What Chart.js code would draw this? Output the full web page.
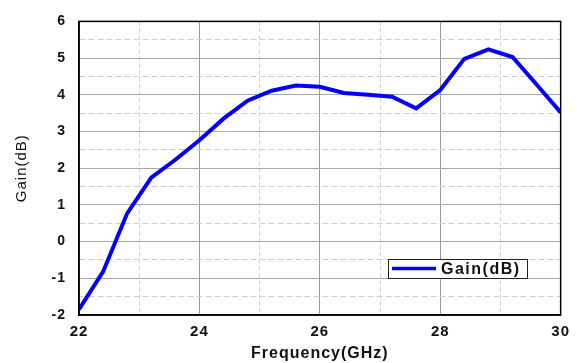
<!DOCTYPE html>
<html>
<head>
<meta charset="utf-8">
<script src="https://cdn.jsdelivr.net/npm/chart.js@4"></script>
<style>
html,body{margin:0;padding:0;background:#fff;}
#wrap{width:577px;height:363px;position:relative;}
</style>
</head>
<body>
<div id="wrap"><canvas id="c" width="577" height="363"></canvas></div>
<script>
const seriesName = "Gain(dB)";
const frequencies = [22, 22.4, 22.8, 23.2, 23.6, 24.0, 24.4, 24.8, 25.2, 25.6, 26.0, 26.4, 26.8, 27.2, 27.6, 28.0, 28.4, 28.8, 29.2, 29.6, 30.0];
const gainValues = [-1.85, -0.82, 0.77, 1.74, 2.23, 2.76, 3.35, 3.84, 4.11, 4.25, 4.22, 4.05, 4.00, 3.95, 3.63, 4.13, 4.98, 5.24, 5.03, 4.28, 3.52];
const xTickLabels = [22, 24, 26, 28, 30];
const yTickLabels = [-2, -1, 0, 1, 2, 3, 4, 5, 6];
const xTitle = "Frequency(GHz)";
const yTitle = "Gain(dB)";

const points = frequencies.map((f, i) => ({x: f, y: gainValues[i]}));

const spacingPlugin = {
  id: 'spacing',
  beforeDraw(chart) { chart.ctx.letterSpacing = '1px'; }
};

const framePlugin = {
  id: 'frame',
  afterDatasetsDraw(chart) {
    const {ctx, chartArea: a} = chart;
    ctx.save();
    ctx.strokeStyle = '#000';
    ctx.lineWidth = 1.5;
    ctx.setLineDash([]);
    ctx.strokeRect(a.left, a.top, a.right - a.left, a.bottom - a.top);
    ctx.restore();
  },
  afterDraw(chart) {
    const {ctx} = chart;
    const ds = chart.data.datasets[0];
    ctx.save();
    const bx = 388, by = 259, bw = 139, bh = 19;
    ctx.fillStyle = '#fff';
    ctx.fillRect(bx, by, bw, bh);
    ctx.setLineDash([]);
    ctx.strokeStyle = '#222';
    ctx.lineWidth = 1;
    ctx.strokeRect(bx + 0.5, by + 0.5, bw, bh);
    ctx.strokeStyle = ds.borderColor;
    ctx.lineWidth = 3.5;
    ctx.beginPath();
    ctx.moveTo(bx + 4, by + 9.5);
    ctx.lineTo(bx + 48, by + 9.5);
    ctx.stroke();
    ctx.letterSpacing = '1.5px';
    ctx.fillStyle = '#111';
    ctx.font = 'bold 16px "Liberation Sans", Arial, sans-serif';
    ctx.textBaseline = 'middle';
    ctx.textAlign = 'left';
    ctx.fillText(ds.label, bx + 53, by + 10.5);
    ctx.restore();
  }
};

const fontFam = '"Liberation Sans", Arial, sans-serif';

new Chart(document.getElementById('c'), {
  type: 'line',
  data: {
    datasets: [{
      label: seriesName,
      data: points,
      borderColor: '#0000ff',
      borderWidth: 4,
      pointRadius: 0,
      tension: 0,
      fill: false
    }]
  },
  options: {
    responsive: false,
    animation: false,
    devicePixelRatio: 1,
    layout: {padding: {left: 0, right: 15, top: 18, bottom: 0}},
    plugins: {legend: {display: false}, tooltip: {enabled: false}},
    scales: {
      x: {
        type: 'linear',
        min: 22, max: 30,
        afterFit(s) { s.height = 48; },
        afterBuildTicks(s) {
          const t = [];
          for (let v = 22; v <= 30; v += 1) t.push({value: v});
          s.ticks = t;
        },
        ticks: {
          autoSkip: false,
          maxRotation: 0,
          padding: 8,
          color: '#111',
          font: {family: fontFam, size: 15, weight: 'bold'},
          callback: (v) => xTickLabels.includes(v) ? String(v) : ''
        },
        grid: {
          drawTicks: false,
          color: (ctx) => (ctx.tick && ctx.tick.value % 2 === 0) ? '#9a9a9a' : '#cfcfcf',
          lineWidth: 1
        },
        border: {
          display: true, color: '#000', width: 1.5,
          dash: (ctx) => (ctx.tick && ctx.tick.value % 2 !== 0) ? [4, 3] : []
        },
        title: {
          display: true,
          text: xTitle,
          color: '#111',
          font: {family: fontFam, size: 16, weight: 'bold'},
          padding: {top: 1, bottom: 0}
        }
      },
      y: {
        min: -2, max: 6,
        afterFit(s) { s.width = 79; },
        afterBuildTicks(s) {
          const t = [];
          for (let v = -2; v <= 6; v += 0.5) t.push({value: v});
          s.ticks = t;
        },
        ticks: {
          autoSkip: false,
          padding: 13,
          color: '#111',
          font: {family: fontFam, size: 14, weight: 'bold'},
          callback: (v) => yTickLabels.includes(v) ? String(v) : ''
        },
        grid: {
          drawTicks: false,
          color: (ctx) => (ctx.tick && Number.isInteger(ctx.tick.value)) ? '#a8a8a8' : '#cfcfcf',
          lineWidth: 1
        },
        border: {
          display: true, color: '#000', width: 1.5,
          dash: (ctx) => (ctx.tick && !Number.isInteger(ctx.tick.value)) ? [6, 3] : []
        },
        title: {
          display: true,
          text: yTitle,
          color: '#111',
          font: {family: fontFam, size: 15, weight: 'normal'},
          padding: {top: 13, bottom: 0}
        }
      }
    }
  },
  plugins: [spacingPlugin, framePlugin]
});
</script>
</body>
</html>
